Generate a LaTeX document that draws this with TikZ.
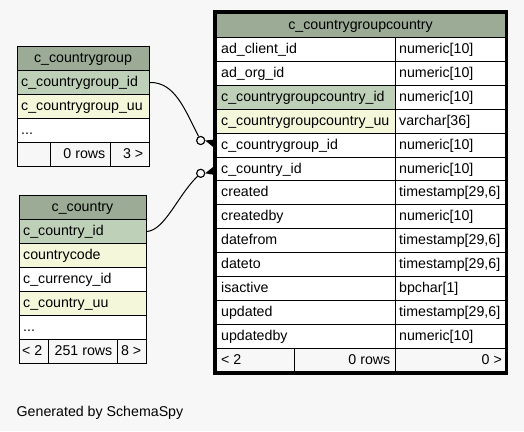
\documentclass[tikz,border=0pt]{standalone}
\usepackage{fontspec}
\setmainfont{Liberation Sans}
\definecolor{bgc}{HTML}{F7F7F7}
\definecolor{headc}{HTML}{9BAB96}
\definecolor{pkc}{HTML}{BED1B8}
\definecolor{idxc}{HTML}{F4F7DA}
\begin{document}
\begin{tikzpicture}[x=1pt,y=-1pt,
  cell/.style={draw=black,line width=1pt,rectangle,inner sep=0pt,anchor=north west},
  txt/.style={inner sep=0pt,anchor=base west,font=\fontsize{14.2}{17}\selectfont},
  rtxt/.style={inner sep=0pt,anchor=base east,font=\fontsize{14.2}{17}\selectfont},
  ctxt/.style={inner sep=0pt,anchor=base,font=\fontsize{14.2}{17}\selectfont},
  conn/.style={draw=black,line width=1pt},
  odot/.style={circle,draw=black,line width=1pt,fill=bgc,minimum size=8pt,inner sep=0pt}]
\fill[bgc] (0,0) rectangle (524,431);
\useasboundingbox (0,0) rectangle (524,431);

% ---------- c_countrygroup ----------
\node[cell,fill=headc,minimum width=132pt,minimum height=24pt] (cgh) at (17,46) {};
\node[ctxt] (cght) at (83,62) {c\_countrygroup};
\node[cell,fill=pkc,minimum width=132pt,minimum height=24pt] (cgid) at (17,70) {};
\node[txt] (cgidt) at (21,86.5) {c\_countrygroup\_id};
\node[cell,fill=idxc,minimum width=132pt,minimum height=24pt] (cguu) at (17,94) {};
\node[txt] (cguut) at (21,110.5) {c\_countrygroup\_uu};
\node[cell,fill=white,minimum width=132pt,minimum height=24pt] (cgdot) at (17,118) {};
\node[txt] (cgdott) at (21,134.5) {...};
\node[cell,fill=bgc,minimum width=33pt,minimum height=24pt] (cgf1) at (17,142) {};
\node[cell,fill=bgc,minimum width=60pt,minimum height=24pt] (cgf2) at (50,142) {};
\node[cell,fill=bgc,minimum width=39pt,minimum height=24pt] (cgf3) at (110,142) {};
\node[rtxt] (cgf2t) at (105.5,158.5) {0 rows};
\node[rtxt] (cgf3t) at (143.5,158.5) {3 >};

% ---------- c_country ----------
\node[cell,fill=headc,minimum width=127pt,minimum height=24pt] (ch) at (19,195) {};
\node[ctxt] (cht) at (82.5,211) {c\_country};
\node[cell,fill=pkc,minimum width=127pt,minimum height=24pt] (cid) at (19,219) {};
\node[txt] (cidt) at (23,235.5) {c\_country\_id};
\node[cell,fill=idxc,minimum width=127pt,minimum height=24pt] (ccode) at (19,243) {};
\node[txt] (ccodet) at (23,259.5) {countrycode};
\node[cell,fill=white,minimum width=127pt,minimum height=24pt] (ccur) at (19,267) {};
\node[txt] (ccurt) at (23,283.5) {c\_currency\_id};
\node[cell,fill=idxc,minimum width=127pt,minimum height=24pt] (cuu) at (19,291) {};
\node[txt] (cuut) at (23,307.5) {c\_country\_uu};
\node[cell,fill=white,minimum width=127pt,minimum height=24pt] (cdot) at (19,315) {};
\node[txt] (cdott) at (23,331.5) {...};
\node[cell,fill=bgc,minimum width=29pt,minimum height=24pt] (cf1) at (19,339) {};
\node[cell,fill=bgc,minimum width=69pt,minimum height=24pt] (cf2) at (48,339) {};
\node[cell,fill=bgc,minimum width=29pt,minimum height=24pt] (cf3) at (117,339) {};
\node[txt] (cf1t) at (22,355.5) {< 2};
\node[rtxt] (cf2t) at (112.5,355.5) {251 rows};
\node[rtxt] (cf3t) at (141.5,355.5) {8 >};

% ---------- c_countrygroupcountry ----------
\node[cell,fill=headc,minimum width=291pt,minimum height=24.8pt] (mh) at (215,12) {};
\node[ctxt] (mht) at (360.5,29) {c\_countrygroupcountry};
\foreach \n/\t/\f [count=\k] in {
  ad\_client\_id/numeric[10]/white,
  ad\_org\_id/numeric[10]/white,
  c\_countrygroupcountry\_id/numeric[10]/pkc,
  c\_countrygroupcountry\_uu/varchar[36]/idxc,
  c\_countrygroup\_id/numeric[10]/white,
  c\_country\_id/numeric[10]/white,
  created/timestamp[29{,}6]/white,
  createdby/numeric[10]/white,
  datefrom/timestamp[29{,}6]/white,
  dateto/timestamp[29{,}6]/white,
  isactive/bpchar[1]/white,
  updated/timestamp[29{,}6]/white,
  updatedby/numeric[10]/white}{
  \pgfmathsetmacro{\yy}{36.8+(\k-1)*23.94}
  \node[cell,fill=\f,minimum width=180pt,minimum height=23.94pt] (m\k) at (215,\yy) {};
  \node[cell,fill=white,minimum width=111pt,minimum height=23.94pt] (mty\k) at (395,\yy) {};
  \node[txt] (mn\k) at (221,\yy+16.5) {\n};
  \node[txt] (mt\k) at (399,\yy+16.5) {\t};
}
\node[cell,fill=bgc,minimum width=79pt,minimum height=23.94pt] (mf1) at (215,348.02) {};
\node[cell,fill=bgc,minimum width=101pt,minimum height=23.94pt] (mf2) at (294,348.02) {};
\node[cell,fill=bgc,minimum width=111pt,minimum height=23.94pt] (mf3) at (395,348.02) {};
\node[txt] (mf1t) at (221,364.5) {< 2};
\node[rtxt] (mf2t) at (390.5,364.5) {0 rows};
\node[rtxt] (mf3t) at (502,364.5) {0 >};
\draw[line width=3.5pt] (215,11.75) rectangle (506.25,373);

% ---------- connectors ----------
\node[odot] (o1) at (200.7,140.5) {};
\node[odot] (o2) at (200.7,173.3) {};
\coordinate (fk1) at (215,144);
\coordinate (fk2) at (215,170);
\draw[conn] (cgid.east) .. controls (175,82) and (185,110) .. (o1);
\draw[conn] (cid.east) .. controls (165,230) and (178,195) .. (o2);
\fill (o1.east) -- (215,139.5) -- (215,148.5) -- cycle;
\fill (o2.east) -- (215,165.5) -- (215,175) -- cycle;
\node[odot] (o1b) at (o1) {};
\node[odot] (o2b) at (o2) {};

% ---------- footer ----------
\node[txt] (gen) at (16.5,416) {Generated by SchemaSpy};
\end{tikzpicture}
\end{document}
